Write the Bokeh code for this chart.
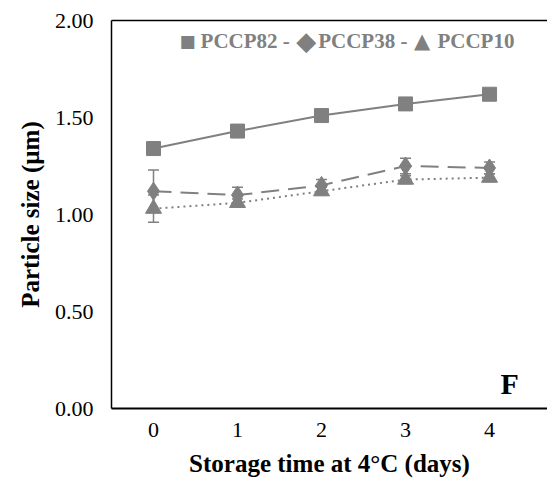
from bokeh.plotting import figure
from bokeh.models import (ColumnDataSource, Whisker, TeeHead, LinearAxis, FixedTicker,
                          Range1d, Label, NumeralTickFormatter)
from bokeh.embed import file_html
from bokeh.resources import INLINE

# ---- data ----
days = [0, 1, 2, 3, 4]
day_labels = ["0", "1", "2", "3", "4"]
pccp82 = [1.34, 1.43, 1.51, 1.57, 1.62]
pccp82_err = [0.01, 0.01, 0.01, 0.01, 0.01]
pccp38 = [1.12, 1.10, 1.15, 1.25, 1.24]
pccp38_err = [0.11, 0.04, 0.03, 0.04, 0.03]
pccp10 = [1.03, 1.06, 1.12, 1.18, 1.19]
pccp10_err = [0.07, 0.02, 0.02, 0.02, 0.02]
y_ticks = [0.0, 0.5, 1.0, 1.5, 2.0]
legend_symbols = ["\u25A0", "\u25C6", "\u25B2"]
legend_labels = ["PCCP82 -", "PCCP38 -", "PCCP10"]
panel_letter = "F"

GRAY = "#808080"
FONT = "'Liberation Serif', 'Times New Roman', serif"

p = figure(width=547, height=488, output_backend="svg", toolbar_location=None,
           x_range=Range1d(-0.5, 4.69), y_range=Range1d(0, 2.0),
           min_border_left=111, min_border_right=0, min_border_top=20, min_border_bottom=80)
p.outline_line_color = None
p.xgrid.visible = False
p.ygrid.visible = False
p.background_fill_color = "white"

def series(y, err, marker, size, dash):
    src = ColumnDataSource(dict(x=days, y=y,
                                upper=[a + b for a, b in zip(y, err)],
                                lower=[a - b for a, b in zip(y, err)]))
    p.line("x", "y", source=src, line_color=GRAY, line_width=2, line_dash=dash)
    w = Whisker(source=src, base="x", upper="upper", lower="lower",
                line_color=GRAY, line_width=1.5,
                upper_head=TeeHead(size=11, line_color=GRAY, line_width=1.5),
                lower_head=TeeHead(size=11, line_color=GRAY, line_width=1.5))
    p.add_layout(w)
    p.scatter("x", "y", source=src, marker=marker, size=size,
              fill_color=GRAY, line_color=GRAY)

series(pccp82, pccp82_err, "square", 14, "solid")
series(pccp38, pccp38_err, "diamond", 18, "18 9")
series(pccp10, pccp10_err, "triangle", 16, "2 4")

# axes
xa = p.xaxis[0]
xa.ticker = FixedTicker(ticks=days)
xa.major_label_overrides = {d: l for d, l in zip(days, day_labels)}
xa.axis_label = "Storage time at 4\u00B0C (days)"
ya = p.yaxis[0]
ya.ticker = FixedTicker(ticks=y_ticks)
ya.formatter = NumeralTickFormatter(format="0.00")
ya.axis_label = "Particle size (\u00B5m)"

for ax in (xa, ya):
    ax.axis_line_color = "black"
    ax.axis_line_width = 1.5
    ax.major_tick_line_color = None
    ax.minor_tick_line_color = None
    ax.major_tick_out = 0
    ax.major_tick_in = 0
    ax.major_label_text_font = FONT
    ax.major_label_text_font_size = "22px"
    ax.major_label_text_color = "black"
    ax.axis_label_text_font = FONT
    ax.axis_label_text_font_size = "25px"
    ax.axis_label_text_font_style = "bold"
    ax.axis_label_text_color = "black"
xa.axis_line_width = 2
xa.major_label_standoff = 14
xa.axis_label_standoff = 10
ya.major_label_standoff = 18
ya.axis_label_standoff = 8

top = LinearAxis(ticker=FixedTicker(ticks=[]), axis_line_color="black", axis_line_width=1.5,
                 major_tick_line_color=None, minor_tick_line_color=None,
                 major_label_text_font_size="0px")
p.add_layout(top, "above")

# legend drawn as a text line (symbol + label pieces), as in the original
leg_y = 1.895
sym_x = [0.31, 1.70, 3.10]    # left edges of symbols (data units)
sym_size = ["17px", "26px", "21px"]
lab_x = [0.56, 1.96, 3.38]    # left edges of label texts
for sx, lx, s, fs, t in zip(sym_x, lab_x, legend_symbols, sym_size, legend_labels):
    p.add_layout(Label(x=sx, y=leg_y, text=s, text_font="'DejaVu Sans'", text_font_size=fs,
                       text_color=GRAY, text_align="left", text_baseline="middle"))
    p.add_layout(Label(x=lx, y=leg_y, text=t, text_font=FONT, text_font_size="21px",
                       text_font_style="bold", text_color=GRAY, text_align="left",
                       text_baseline="middle"))

p.add_layout(Label(x=4.35, y=0.13, text=panel_letter, text_font=FONT, text_font_size="30px",
                   text_font_style="bold", text_color="black", text_align="right",
                   text_baseline="alphabetic"))

open("out.html", "w").write(file_html(p, INLINE))
